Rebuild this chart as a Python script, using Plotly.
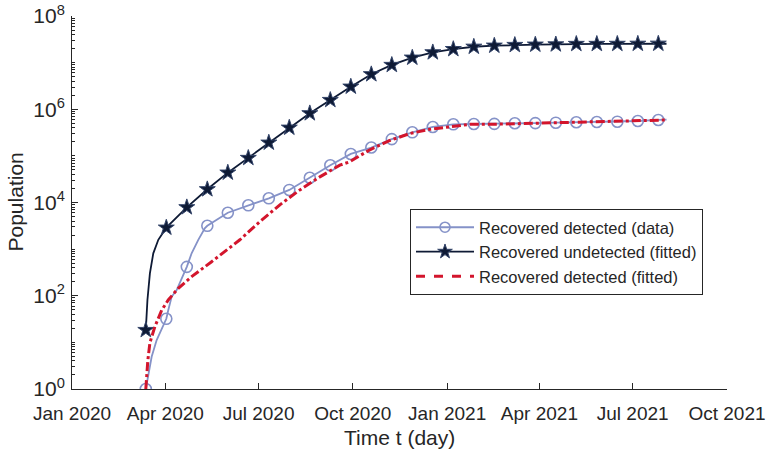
import pandas as pd
import plotly.graph_objects as go

# ---------------- data ----------------
start_date = "2020-03-13"
# days after start_date where markers are drawn
marker_days = list(range(0, 501, 20))

recovered_detected_data = [1, 32, 417, 3162, 6026, 8700, 12300, 18600, 33900, 63100,
                           110000, 151000, 229000, 320000, 417000, 475000, 483000, 485000,
                           500000, 505000, 515000, 525000, 533000, 541000, 560000, 589000]
data_extra_days = [5.7, 10.6, 15.5, 21.9, 25.2, 30.1, 34.9, 44.7, 51.2, 57.7, 508]
data_extra_vals = [4.9, 11.2, 20, 49, 95, 132, 234, 813, 1585, 2818, 600000]

recovered_undetected_fit = [18.4, 2884, 7889, 19190, 43650, 90160, 191900, 401800, 818500,
                            1578000, 3048000, 5623000, 8913000, 12760000, 16600000, 19500000,
                            21880000, 23070000, 23880000, 24270000, 24550000, 25120000,
                            25150000, 25230000, 25350000, 25410000]
undet_extra_days = [1.6, 4, 7.3, 12.2, 508]
undet_extra_vals = [81, 302, 813, 1585, 25410000]

fit_days = [0, 1, 2, 4, 8.9, 15.5, 21.9, 31.7, 44.7, 64.2, 83.7, 91.8, 111.3, 130.8, 150.3,
            169.8, 189.3, 199.1, 207, 218.6, 238.1, 257.6, 277.1, 296.6, 316.1, 342.1, 374.6,
            407.1, 439.6, 472.1, 507.9]
recovered_detected_fit = [1, 2.24, 4.17, 9.77, 21.9, 49, 81.3, 144.5, 257, 537, 1122, 1585,
                          3890, 8913, 18620, 35480, 63100, 75000, 95500, 134900, 213800,
                          302000, 371500, 422700, 475300, 478600, 501200, 512900, 533300,
                          562300, 588800]

x_tick_dates = ["2020-01-01", "2020-04-01", "2020-07-01", "2020-10-01",
                "2021-01-01", "2021-04-01", "2021-07-01", "2021-10-01"]
x_tick_text = ["Jan 2020", "Apr 2020", "Jul 2020", "Oct 2020",
               "Jan 2021", "Apr 2021", "Jul 2021", "Oct 2021"]
y_label_exps = [0, 2, 4, 6, 8]

# ---------------- helpers ----------------
t0 = pd.Timestamp(start_date)


def to_dates(days):
    return [t0 + pd.Timedelta(days=float(d)) for d in days]


def merged(days_a, vals_a, days_b, vals_b):
    pts = sorted(zip(list(days_a) + list(days_b), list(vals_a) + list(vals_b)))
    return [p[0] for p in pts], [p[1] for p in pts]


C_DATA = "#8592c8"
C_UNDET = "#0e1a35"
C_FIT = "#d3152c"

fig = go.Figure()

# recovered detected (data)
d_days, d_vals = merged(marker_days, recovered_detected_data, data_extra_days, data_extra_vals)
fig.add_trace(go.Scatter(x=to_dates(d_days), y=d_vals, mode="lines",
                         line=dict(color=C_DATA, width=1.8), showlegend=False, hoverinfo="skip"))
fig.add_trace(go.Scatter(x=to_dates(marker_days), y=recovered_detected_data, mode="markers",
                         marker=dict(symbol="circle-open", size=11, color=C_DATA,
                                     line=dict(width=1.6, color=C_DATA)),
                         showlegend=False))

# recovered undetected (fitted)
u_days, u_vals = merged(marker_days, recovered_undetected_fit, undet_extra_days, undet_extra_vals)
fig.add_trace(go.Scatter(x=to_dates(u_days), y=u_vals, mode="lines",
                         line=dict(color=C_UNDET, width=1.8), showlegend=False, hoverinfo="skip"))
fig.add_trace(go.Scatter(x=to_dates(marker_days), y=recovered_undetected_fit, mode="markers",
                         marker=dict(symbol="star", size=12, color=C_UNDET,
                                     line=dict(width=1, color="#34456a")),
                         showlegend=False))

# recovered detected (fitted)
fig.add_trace(go.Scatter(x=to_dates(fit_days), y=recovered_detected_fit, mode="lines",
                         line=dict(color=C_FIT, width=3, dash="dashdot"), showlegend=False,
                         hoverinfo="skip"))

# legend entries
fig.add_trace(go.Scatter(x=[None], y=[None], mode="lines+markers",
                         name="Recovered detected (data)",
                         line=dict(color=C_DATA, width=1.8),
                         marker=dict(symbol="circle-open", size=10, color=C_DATA,
                                     line=dict(width=1.6, color=C_DATA))))
fig.add_trace(go.Scatter(x=[None], y=[None], mode="lines+markers",
                         name="Recovered undetected (fitted)",
                         line=dict(color=C_UNDET, width=1.8),
                         marker=dict(symbol="star", size=11, color=C_UNDET,
                                     line=dict(width=1, color="#34456a"))))
fig.add_trace(go.Scatter(x=[None], y=[None], mode="lines",
                         name="Recovered detected (fitted)",
                         line=dict(color=C_FIT, width=3, dash="dash")))

minor_vals = [m * 10 ** e for e in range(0, 8) for m in range(2, 10)] + \
             [10 ** e for e in (1, 3, 5, 7)]

L, R, T, B = 72, 40, 16, 65
plot_w = 767 - L - R
plot_h = 454 - T - B

fig.update_layout(
    width=767, height=454,
    margin=dict(l=L, r=R, t=T, b=B, autoexpand=False),
    paper_bgcolor="white", plot_bgcolor="white",
    font=dict(family="Liberation Sans, Arial, sans-serif", color="#262626"),
    showlegend=True,
    legend=dict(x=(410 - L) / plot_w, y=(389 - 209) / plot_h, xanchor="left", yanchor="top",
                bgcolor="white", bordercolor="#262626", borderwidth=1,
                font=dict(size=16.5, color="#262626"), tracegroupgap=0, itemwidth=58),
    xaxis=dict(type="date", range=["2020-01-01", "2021-10-01"], automargin=False,
               tickmode="array", tickvals=x_tick_dates, ticktext=x_tick_text,
               ticks="inside", ticklen=6, tickcolor="#262626",
               showline=True, linecolor="#262626", linewidth=1,
               showgrid=False, zeroline=False,
               tickfont=dict(size=19), ticklabelstandoff=7),
    yaxis=dict(type="log", range=[0, 8], automargin=False,
               tickmode="array", tickvals=[10 ** e for e in y_label_exps],
               ticktext=["10<sup>%d</sup>" % e for e in y_label_exps],
               ticks="inside", ticklen=6, tickcolor="#262626",
               minor=dict(tickmode="array", tickvals=minor_vals, ticks="inside",
                          ticklen=3, tickcolor="#262626"),
               showline=True, linecolor="#262626", linewidth=1,
               showgrid=False, zeroline=False,
               tickfont=dict(size=21), ticklabelstandoff=2),
    annotations=[
        dict(text="Time t (day)", x=0.5, y=(389 - 437) / plot_h, xref="paper", yref="paper",
             yanchor="middle", showarrow=False, font=dict(size=21)),
        dict(text="Population", x=(15 - L) / plot_w, y=0.5, xref="paper", yref="paper",
             xanchor="center", showarrow=False, textangle=-90, font=dict(size=21)),
    ],
)

fig.write_html("out.html")
